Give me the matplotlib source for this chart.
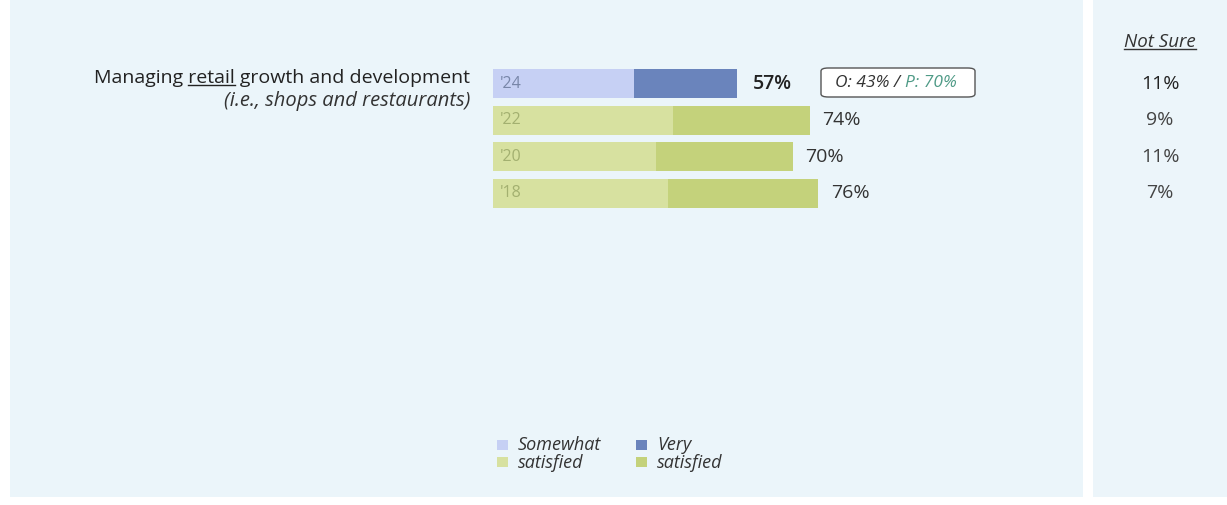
import matplotlib
matplotlib.use("Agg")
import matplotlib.pyplot as plt
from matplotlib.patches import Rectangle, FancyBboxPatch

plt.rcParams['font.family'] = ['Open Sans', 'DejaVu Sans']

# data
years = ["'24", "'22", "'20", "'18"]
somewhat = [33, 42, 38, 41]
very = [24, 32, 32, 35]
totals = [57, 74, 70, 76]
not_sure = [11, 9, 11, 7]
compare_o = 43
compare_p = 70

W, H = 1227, 505
fig = plt.figure(figsize=(W / 100, H / 100), dpi=100)
fig.patch.set_facecolor('white')


def px(x, y):
    return x / W, 1 - y / H


# background panels
bg = '#EBF5FA'
fig.patches.append(Rectangle(px(10, 497), 1073 / W, 497 / H, transform=fig.transFigure,
                             facecolor=bg, edgecolor='none', zorder=-10))
fig.patches.append(Rectangle(px(1093, 497), 134 / W, 497 / H, transform=fig.transFigure,
                             facecolor='#ECF5FA', edgecolor='none', zorder=-10))

# bar axes: 0..100 % spans 428 px starting at x=493
top, bottom = 65.2, 211.8
ax = fig.add_axes([493 / W, 1 - bottom / H, 428 / W, (bottom - top) / H])
ax.set_xlim(0, 100)
ax.set_ylim(3.5, -0.5)
ax.axis('off')

light = ['#C6D0F4', '#D7E1A0', '#D7E1A0', '#D7E1A0']
dark = ['#6A84BC', '#C4D27B', '#C4D27B', '#C4D27B']
yr_col = ['#7886A8', '#A3B070', '#A3B070', '#A3B070']

for i in range(len(years)):
    ax.barh(i, somewhat[i], height=0.79, color=light[i], edgecolor='none')
    ax.barh(i, very[i], left=somewhat[i], height=0.79, color=dark[i], edgecolor='none')
    ax.text(1.5, i, years[i], va='center', ha='left', fontsize=11.5, color=yr_col[i])
    gap = 3.7 if i == 0 else 3.0
    ax.text(totals[i] + gap, i, f'{totals[i]}%', va='center', ha='left', fontsize=14,
            color='#222222' if i == 0 else '#333333',
            fontweight='semibold' if i == 0 else 'normal')

# comparison box
box = FancyBboxPatch(px(821, 97), 154 / W, 29 / H, transform=fig.transFigure,
                     boxstyle='round,pad=0,rounding_size=0.006', facecolor='white',
                     edgecolor='#555555', linewidth=1.0)
fig.patches.append(box)
t1 = fig.text(*px(835, 83), f'O: {compare_o}% / ', fontsize=12.5, style='italic',
              color='#333333', va='center', ha='left')
fig.canvas.draw()
r = fig.canvas.get_renderer()
bb = t1.get_window_extent(r)
fig.text(bb.x1 / W, 1 - 83 / H, f'P: {compare_p}%', fontsize=12.5, style='italic',
         color='#4E9A86', va='center', ha='left')

# question labels
pre, word, post = 'Managing ', 'retail', ' growth and development'
title = fig.text(*px(470, 78), pre + word + post, fontsize=14, color='#222222',
                 ha='right', va='center')
fig.canvas.draw()
tb = title.get_window_extent(r)
tmp = fig.text(0, 0, pre, fontsize=14)
w_pre = tmp.get_window_extent(r).width
tmp.set_text(pre + word)
w_word = tmp.get_window_extent(r).width
tmp.remove()
uy = tb.y0 + 2
fig.add_artist(plt.Line2D([(tb.x0 + w_pre) / W, (tb.x0 + w_word) / W], [uy / H, uy / H],
                          color='#222222', linewidth=1.0))
fig.text(*px(470, 101), '(i.e., shops and restaurants)', fontsize=14.5, style='italic',
         color='#333333', ha='right', va='center')

# not sure column
ns = fig.text(*px(1160, 42), 'Not Sure', fontsize=13.5, style='italic', color='#333333',
              ha='center', va='center')
fig.canvas.draw()
nb = ns.get_window_extent(r)
fig.add_artist(plt.Line2D([nb.x0 / W, nb.x1 / W], [(nb.y0 + 2) / H] * 2,
                          color='#333333', linewidth=1.0))
for i, v in enumerate(not_sure):
    yc = ax.transData.transform((0, i))[1]
    fig.text(1160 / W, yc / H, f'{v}%', fontsize=14, ha='center', va='center',
             color='#222222' if i == 0 else '#444444',
             fontweight='medium' if i == 0 else 'normal')

# legend
leg = [(497, 445, light[0]), (497, 462, light[1]), (636, 445, dark[0]), (636, 462, dark[1])]
for x, y, c in leg:
    fig.patches.append(Rectangle(px(x, y + 5), 11 / W, 10 / H, transform=fig.transFigure,
                                 facecolor=c, edgecolor='none'))
for x, a, b in [(518, 'Somewhat', 'satisfied'), (657, 'Very', 'satisfied')]:
    fig.text(*px(x, 445), a, fontsize=13, style='italic', color='#333333', va='center')
    fig.text(*px(x, 463), b, fontsize=13, style='italic', color='#333333', va='center')

fig.savefig('out.png', dpi=100)
